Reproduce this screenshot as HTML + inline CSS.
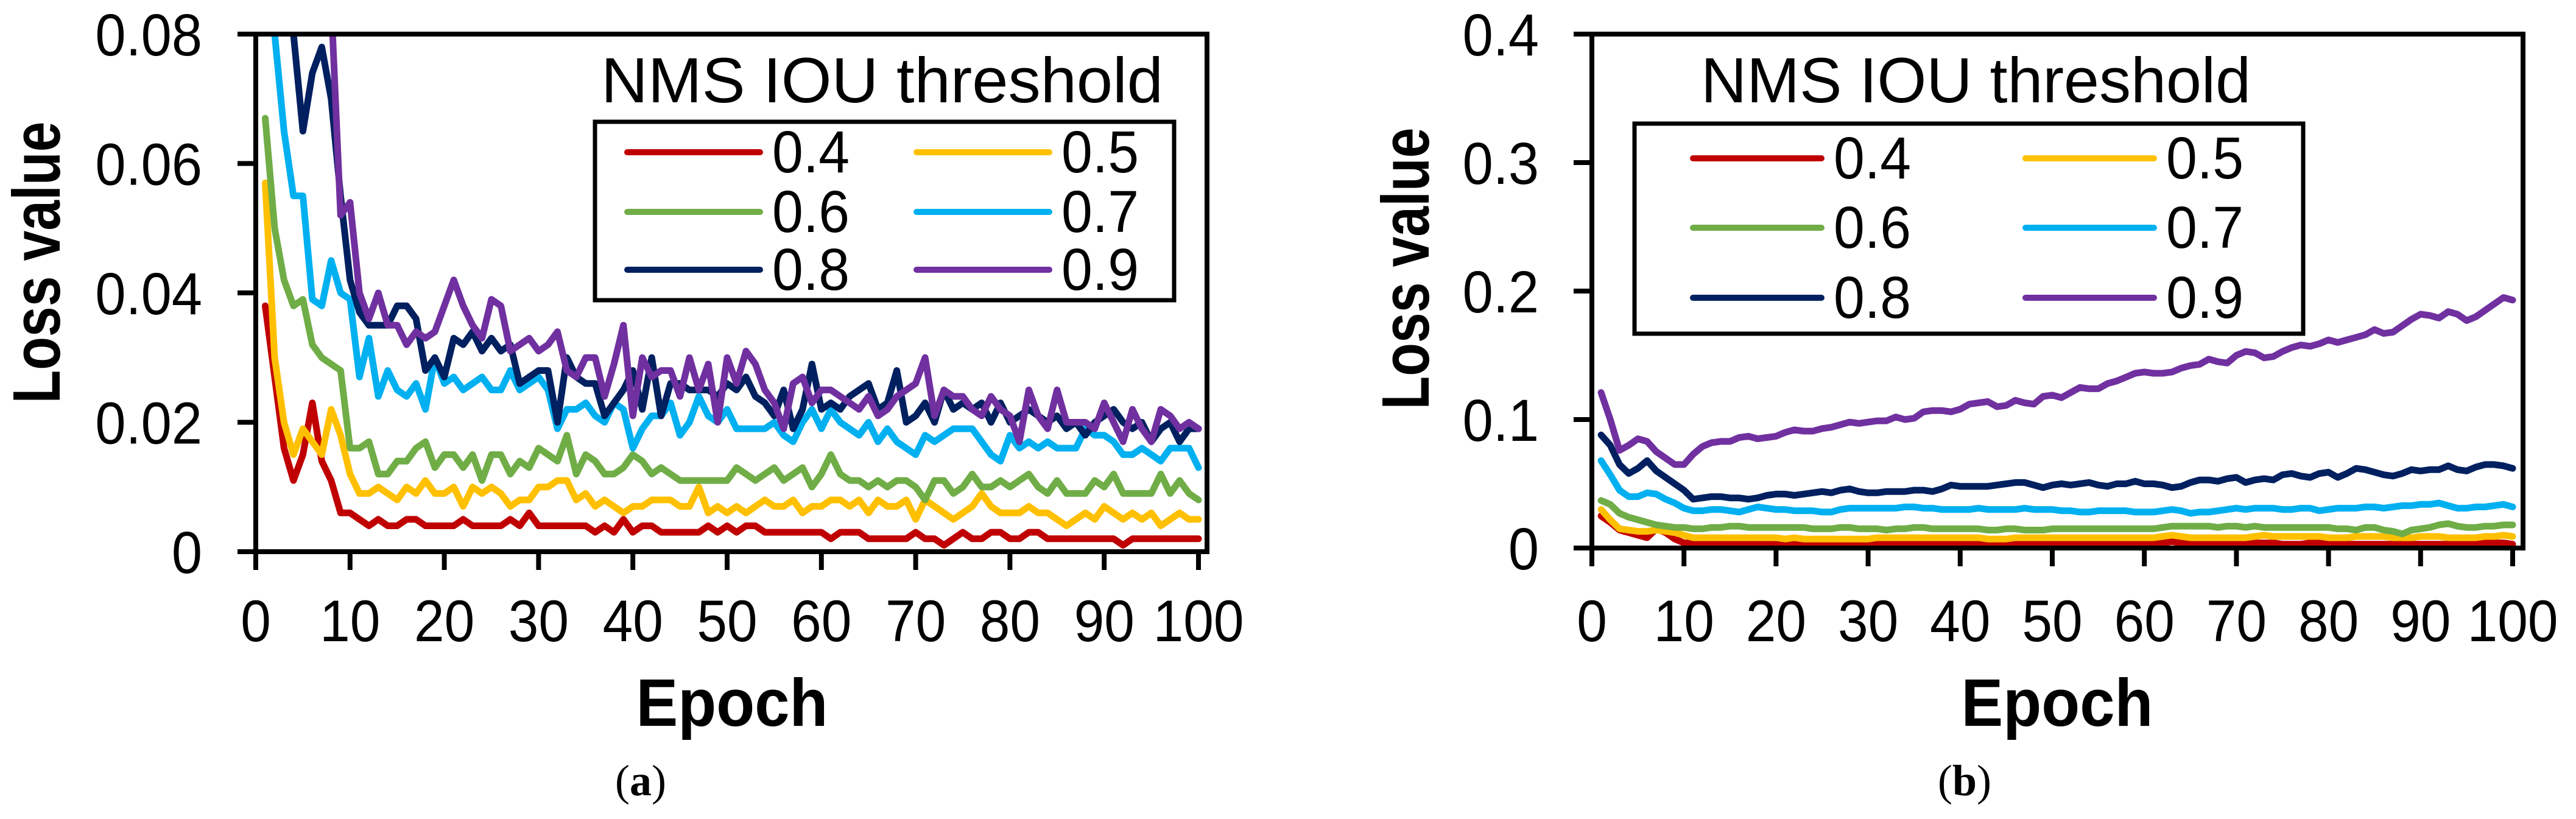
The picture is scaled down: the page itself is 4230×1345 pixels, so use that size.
<!DOCTYPE html>
<html><head><meta charset="utf-8"><title>NMS IOU threshold loss curves</title>
<style>html,body{margin:0;padding:0;background:#fff}svg{display:block}</style></head>
<body>
<svg id="fig" xmlns="http://www.w3.org/2000/svg" width="4230" height="1345" viewBox="0 0 4230 1345">
<rect x="0" y="0" width="4230" height="1345" fill="#fff"/>
<defs>
<clipPath id="clipA"><rect x="424" y="60" width="1554" height="842"/></clipPath>
<clipPath id="clipB"><rect x="2618" y="60" width="1521" height="836"/></clipPath>
</defs>
<g id="chartA"></g>
<g id="chartB"></g>
</svg>
<script>
const seriesNames = ["0.4","0.5","0.6","0.7","0.8","0.9"];
const seriesColors = ["#C00000","#FFC000","#70AD47","#00B0F0","#002060","#7030A0"];
const xTicks = [0,10,20,30,40,50,60,70,80,90,100];
const yTicksA = [0,0.02,0.04,0.06,0.08];
const yTickLabelsA = ["0","0.02","0.04","0.06","0.08"];
const yTicksB = [0,0.1,0.2,0.3,0.4];
const yTickLabelsB = ["0","0.1","0.2","0.3","0.4"];

const a04=[0.038,0.027,0.016,0.011,0.015,0.023,0.014,0.011,0.006,0.006,0.005,0.004,0.005,0.004,0.004,0.005,0.005,0.004,0.004,0.004,0.004,0.005,0.004,0.004,0.004,0.004,0.005,0.004,0.006,0.004,0.004,0.004,0.004,0.004,0.004,0.003,0.004,0.003,0.005,0.003,0.004,0.004,0.003,0.003,0.003,0.003,0.003,0.004,0.003,0.004,0.003,0.004,0.004,0.003,0.003,0.003,0.003,0.003,0.003,0.003,0.002,0.003,0.003,0.003,0.002,0.002,0.002,0.002,0.002,0.003,0.002,0.002,0.001,0.002,0.003,0.002,0.002,0.003,0.003,0.002,0.002,0.003,0.003,0.002,0.002,0.002,0.002,0.002,0.002,0.002,0.002,0.001,0.002,0.002,0.002,0.002,0.002,0.002,0.002,0.002];
const a05=[0.057,0.030,0.020,0.015,0.019,0.017,0.015,0.022,0.018,0.012,0.009,0.009,0.010,0.009,0.008,0.010,0.009,0.011,0.009,0.009,0.010,0.007,0.010,0.009,0.010,0.009,0.007,0.008,0.008,0.010,0.010,0.011,0.011,0.008,0.009,0.007,0.008,0.007,0.006,0.007,0.007,0.008,0.008,0.008,0.007,0.007,0.010,0.006,0.007,0.006,0.007,0.006,0.007,0.008,0.007,0.007,0.008,0.006,0.007,0.007,0.008,0.008,0.007,0.008,0.006,0.008,0.007,0.007,0.008,0.005,0.008,0.007,0.006,0.005,0.006,0.007,0.009,0.007,0.006,0.006,0.006,0.007,0.006,0.006,0.005,0.004,0.005,0.006,0.005,0.007,0.006,0.005,0.006,0.005,0.006,0.004,0.005,0.006,0.005,0.005];
const a06=[0.067,0.050,0.042,0.038,0.039,0.032,0.030,0.029,0.028,0.016,0.016,0.017,0.012,0.012,0.014,0.014,0.016,0.017,0.013,0.015,0.015,0.013,0.015,0.011,0.015,0.015,0.012,0.014,0.013,0.016,0.015,0.014,0.018,0.012,0.015,0.014,0.012,0.012,0.013,0.015,0.014,0.012,0.013,0.012,0.011,0.011,0.011,0.011,0.011,0.011,0.013,0.012,0.011,0.012,0.013,0.011,0.012,0.013,0.010,0.012,0.015,0.012,0.011,0.011,0.010,0.011,0.010,0.011,0.011,0.010,0.008,0.011,0.011,0.009,0.010,0.012,0.010,0.010,0.011,0.010,0.011,0.012,0.010,0.009,0.011,0.009,0.009,0.009,0.011,0.010,0.012,0.009,0.009,0.009,0.009,0.012,0.009,0.011,0.009,0.008];
const a07=[0.094,0.080,0.065,0.055,0.055,0.039,0.038,0.045,0.040,0.039,0.027,0.033,0.024,0.028,0.025,0.024,0.026,0.022,0.030,0.026,0.027,0.025,0.026,0.027,0.025,0.025,0.028,0.025,0.026,0.027,0.025,0.019,0.022,0.022,0.023,0.021,0.020,0.023,0.022,0.016,0.019,0.021,0.021,0.023,0.018,0.020,0.024,0.021,0.020,0.022,0.019,0.019,0.019,0.019,0.020,0.018,0.017,0.020,0.022,0.019,0.022,0.020,0.019,0.018,0.020,0.017,0.019,0.017,0.016,0.015,0.018,0.017,0.018,0.019,0.019,0.019,0.017,0.015,0.014,0.018,0.016,0.017,0.016,0.017,0.016,0.016,0.016,0.019,0.018,0.018,0.017,0.015,0.015,0.016,0.015,0.014,0.016,0.016,0.016,0.013];
const a08=[0.100,0.095,0.088,0.080,0.065,0.074,0.078,0.070,0.055,0.042,0.037,0.035,0.035,0.035,0.038,0.038,0.036,0.028,0.030,0.027,0.033,0.032,0.034,0.031,0.033,0.031,0.032,0.026,0.027,0.028,0.028,0.020,0.030,0.027,0.026,0.026,0.021,0.023,0.025,0.028,0.022,0.030,0.021,0.026,0.026,0.025,0.025,0.025,0.024,0.026,0.025,0.027,0.024,0.023,0.021,0.025,0.019,0.022,0.029,0.022,0.023,0.022,0.024,0.025,0.026,0.022,0.023,0.028,0.020,0.021,0.023,0.020,0.025,0.022,0.023,0.022,0.023,0.020,0.023,0.020,0.021,0.022,0.021,0.020,0.021,0.019,0.020,0.018,0.020,0.021,0.022,0.020,0.019,0.020,0.017,0.019,0.020,0.017,0.019,0.019];
const a09=[0.130,0.125,0.120,0.115,0.110,0.105,0.100,0.085,0.052,0.054,0.040,0.036,0.040,0.035,0.035,0.032,0.034,0.033,0.034,0.038,0.042,0.038,0.035,0.033,0.039,0.038,0.031,0.032,0.033,0.031,0.032,0.034,0.028,0.027,0.030,0.030,0.024,0.029,0.035,0.021,0.030,0.027,0.028,0.028,0.024,0.030,0.025,0.029,0.020,0.030,0.026,0.031,0.029,0.025,0.023,0.019,0.026,0.027,0.023,0.025,0.025,0.024,0.023,0.022,0.024,0.021,0.022,0.024,0.025,0.026,0.030,0.021,0.025,0.024,0.024,0.022,0.021,0.024,0.022,0.021,0.017,0.025,0.021,0.019,0.025,0.020,0.020,0.020,0.019,0.023,0.020,0.017,0.022,0.019,0.017,0.022,0.021,0.019,0.020,0.019];

const b04=[0.025,0.020,0.014,0.012,0.010,0.008,0.015,0.012,0.007,0.004,0.004,0.004,0.004,0.003,0.003,0.003,0.004,0.003,0.003,0.003,0.003,0.003,0.003,0.003,0.003,0.003,0.003,0.003,0.003,0.003,0.003,0.004,0.004,0.003,0.003,0.003,0.003,0.004,0.004,0.004,0.003,0.003,0.003,0.003,0.003,0.004,0.003,0.003,0.003,0.003,0.003,0.003,0.004,0.004,0.003,0.003,0.003,0.003,0.003,0.004,0.004,0.004,0.005,0.004,0.003,0.003,0.003,0.003,0.003,0.003,0.003,0.004,0.004,0.004,0.003,0.003,0.003,0.004,0.004,0.004,0.003,0.003,0.003,0.003,0.003,0.003,0.003,0.003,0.003,0.003,0.003,0.003,0.003,0.003,0.003,0.004,0.004,0.004,0.004,0.003];
const b05=[0.030,0.022,0.015,0.014,0.013,0.013,0.014,0.013,0.012,0.010,0.008,0.008,0.008,0.008,0.008,0.008,0.008,0.008,0.008,0.008,0.007,0.008,0.007,0.007,0.007,0.007,0.007,0.007,0.007,0.007,0.008,0.008,0.008,0.008,0.008,0.008,0.008,0.008,0.008,0.008,0.008,0.008,0.007,0.007,0.007,0.008,0.008,0.008,0.008,0.008,0.008,0.008,0.008,0.008,0.008,0.008,0.008,0.008,0.008,0.008,0.008,0.009,0.010,0.009,0.008,0.008,0.008,0.008,0.008,0.008,0.008,0.009,0.010,0.009,0.009,0.009,0.009,0.009,0.009,0.008,0.008,0.008,0.009,0.009,0.009,0.009,0.008,0.008,0.008,0.009,0.009,0.009,0.008,0.008,0.008,0.008,0.009,0.009,0.010,0.009];
const b06=[0.037,0.034,0.027,0.024,0.022,0.020,0.018,0.017,0.016,0.016,0.015,0.015,0.016,0.016,0.017,0.017,0.016,0.016,0.016,0.016,0.016,0.016,0.016,0.015,0.015,0.015,0.016,0.016,0.015,0.015,0.015,0.014,0.015,0.015,0.016,0.016,0.015,0.015,0.015,0.015,0.015,0.015,0.014,0.014,0.015,0.015,0.014,0.014,0.014,0.015,0.015,0.015,0.015,0.015,0.015,0.015,0.015,0.015,0.015,0.015,0.015,0.016,0.017,0.017,0.017,0.017,0.017,0.016,0.017,0.017,0.016,0.017,0.016,0.016,0.016,0.016,0.016,0.016,0.016,0.016,0.015,0.015,0.014,0.016,0.016,0.014,0.013,0.011,0.014,0.015,0.016,0.018,0.019,0.017,0.016,0.016,0.017,0.017,0.018,0.018];
const b07=[0.068,0.057,0.045,0.040,0.040,0.043,0.042,0.038,0.035,0.031,0.029,0.029,0.030,0.030,0.029,0.028,0.030,0.032,0.031,0.030,0.030,0.029,0.029,0.029,0.028,0.028,0.030,0.031,0.031,0.031,0.031,0.031,0.031,0.032,0.032,0.031,0.031,0.030,0.030,0.030,0.030,0.031,0.030,0.030,0.030,0.030,0.031,0.030,0.030,0.030,0.029,0.029,0.028,0.028,0.029,0.029,0.029,0.029,0.028,0.028,0.028,0.029,0.030,0.029,0.027,0.028,0.028,0.029,0.030,0.031,0.030,0.031,0.031,0.031,0.030,0.030,0.031,0.031,0.029,0.030,0.031,0.031,0.031,0.032,0.032,0.031,0.032,0.033,0.033,0.034,0.034,0.035,0.033,0.031,0.031,0.032,0.032,0.033,0.034,0.032];
const b08=[0.088,0.080,0.065,0.058,0.062,0.068,0.060,0.055,0.050,0.045,0.038,0.039,0.040,0.040,0.039,0.039,0.038,0.039,0.041,0.042,0.042,0.041,0.042,0.043,0.044,0.043,0.045,0.046,0.044,0.043,0.043,0.044,0.044,0.044,0.045,0.045,0.044,0.046,0.049,0.048,0.048,0.048,0.048,0.049,0.050,0.051,0.051,0.049,0.047,0.049,0.050,0.049,0.050,0.051,0.049,0.048,0.050,0.050,0.052,0.050,0.050,0.049,0.047,0.048,0.051,0.053,0.053,0.052,0.054,0.055,0.051,0.053,0.054,0.053,0.057,0.058,0.056,0.055,0.058,0.059,0.055,0.058,0.062,0.061,0.059,0.057,0.056,0.058,0.061,0.060,0.061,0.061,0.064,0.061,0.060,0.063,0.065,0.065,0.064,0.062];
const b09=[0.121,0.100,0.076,0.080,0.085,0.083,0.075,0.070,0.065,0.065,0.073,0.079,0.082,0.083,0.083,0.086,0.087,0.085,0.086,0.087,0.090,0.092,0.091,0.091,0.093,0.094,0.096,0.098,0.097,0.098,0.099,0.099,0.102,0.100,0.101,0.106,0.107,0.107,0.106,0.108,0.112,0.113,0.114,0.110,0.111,0.115,0.113,0.112,0.118,0.119,0.117,0.121,0.125,0.124,0.124,0.128,0.130,0.133,0.136,0.137,0.136,0.136,0.137,0.140,0.142,0.143,0.147,0.145,0.144,0.150,0.153,0.152,0.148,0.149,0.153,0.156,0.158,0.157,0.159,0.162,0.160,0.162,0.164,0.166,0.170,0.167,0.168,0.173,0.178,0.182,0.181,0.179,0.184,0.182,0.177,0.180,0.185,0.190,0.195,0.193];

const NS="http://www.w3.org/2000/svg";
function mk(parent, tag, attrs){const e=document.createElementNS(NS,tag);for(const k in attrs)e.setAttribute(k,attrs[k]);parent.appendChild(e);return e;}
function txt(parent, str, x, y, size, anchor, weight, family, sx){
  const t=mk(parent,"text",{"font-size":size,"text-anchor":anchor,"font-weight":weight||"normal","font-family":family||'"Liberation Sans", sans-serif',fill:"#000",transform:`translate(${x},${y}) scale(${sx||1},1)`});
  t.textContent=str;return t;}

function drawChart(cfg){
  const g=document.getElementById(cfg.id);
  const X=e=>cfg.x0+(e/100)*(cfg.x100-cfg.x0);
  const Y=v=>cfg.yb-(v/cfg.ymax)*(cfg.yb-cfg.yt);
  // series
  const sg=mk(g,"g",{"clip-path":`url(#${cfg.clip})`});
  
  
  cfg.series.forEach((arr,i)=>{
    const pts=arr.map((v,j)=>`${X(j+1).toFixed(1)},${Y(v).toFixed(1)}`).join(" ");
    const p=mk(sg,"polyline",{points:pts,fill:"none",stroke:seriesColors[i],"stroke-width":11,"stroke-linejoin":"round","stroke-linecap":"round"});
    
    
  });
  // frame
  const fr=mk(g,"rect",{x:cfg.x0,y:cfg.yt,width:cfg.xr-cfg.x0,height:cfg.yb-cfg.yt,fill:"none",stroke:"#000","stroke-width":8});
  
  
  // y ticks
  cfg.yTicks.forEach((v,i)=>{
    const y=Y(v);
    const tk=mk(g,"line",{x1:cfg.x0-30,y1:y,x2:cfg.x0,y2:y,stroke:"#000","stroke-width":8});
    
    
    const t=txt(g,cfg.yLabels[i],cfg.yLabelX,y+35,97,"end","normal",null,0.93);
    
    
  });
  // x ticks
  xTicks.forEach(v=>{
    const x=X(v);
    const tk=mk(g,"line",{x1:x,y1:cfg.yb,x2:x,y2:cfg.yb+30,stroke:"#000","stroke-width":8});
    
    
    const t=txt(g,String(v),x,1053,97,"middle","normal",null,0.92);
    
    
  });
  // axis titles
  const yt=mk(g,"text",{"font-size":110,"font-weight":"bold","font-family":'"Liberation Sans", sans-serif',"text-anchor":"middle",textLength:463,lengthAdjust:"spacingAndGlyphs",transform:`translate(${cfg.ytitleX},${cfg.ytitleY}) rotate(-90)`});
  yt.textContent="Loss value";
  
  
  const xt=mk(g,"text",{x:cfg.xtitleX,y:1192,"font-size":110,"font-weight":"bold","font-family":'"Liberation Sans", sans-serif',"text-anchor":"middle",textLength:315,lengthAdjust:"spacingAndGlyphs"});
  xt.textContent="Epoch";
  
  
  // caption
  const cap=mk(g,"text",{x:cfg.capX,y:1306,"font-size":72,"font-family":'"Liberation Serif", serif',"text-anchor":"middle"});
  cap.innerHTML=`(<tspan font-weight="bold">${cfg.cap}</tspan>)`;
  
  
  // legend title
  const lt=mk(g,"text",{x:cfg.ltX,y:168,"font-size":105,"font-family":'"Liberation Sans", sans-serif',textLength:cfg.ltLen,lengthAdjust:"spacingAndGlyphs"});
  lt.textContent="NMS IOU threshold";
  
  
  const lb=mk(g,"rect",{x:cfg.lb[0],y:cfg.lb[1],width:cfg.lb[2]-cfg.lb[0],height:cfg.lb[3]-cfg.lb[1],fill:"#fff",stroke:"#000","stroke-width":7});
  
  
  seriesNames.forEach((n,i)=>{
    const col=i%2,row=Math.floor(i/2);
    const y=cfg.rows[row], lx=cfg.cols[col];
    const eg=mk(g,"g",{});
    
    
    mk(eg,"line",{x1:lx,y1:y,x2:lx+cfg.swLen,y2:y,stroke:seriesColors[i],"stroke-width":10,"stroke-linecap":"round"});
    const t=mk(eg,"text",{x:lx+cfg.swLen+20,y:y+33,"font-size":97,"font-family":'"Liberation Sans", sans-serif',textLength:127,lengthAdjust:"spacingAndGlyphs"});
    t.textContent=n;
  });
}

drawChart({id:"chartA",clip:"clipA",x0:420,x100:1968,xr:1982,yt:56,yb:906,ymax:0.08,
  yTicks:yTicksA,yLabels:yTickLabelsA,yLabelX:332,ytitleX:98,ytitleY:431,xtitleX:1202,capX:1052,cap:"a",
  ltX:987,ltLen:923,lb:[977,200,1928,493],rows:[250,348,443],cols:[1030,1505],swLen:218,
  series:[a04,a05,a06,a07,a08,a09]});
drawChart({id:"chartB",clip:"clipB",x0:2614,x100:4126,xr:4143,yt:56,yb:900,ymax:0.4,
  yTicks:yTicksB,yLabels:yTickLabelsB,yLabelX:2527,ytitleX:2346,ytitleY:441,xtitleX:3378,capX:3226,cap:"b",
  ltX:2793,ltLen:903,lb:[2684,203,3782,548],rows:[260,374,489],cols:[2780,3326],swLen:211,
  series:[b04,b05,b06,b07,b08,b09]});
</script>
</body></html>
